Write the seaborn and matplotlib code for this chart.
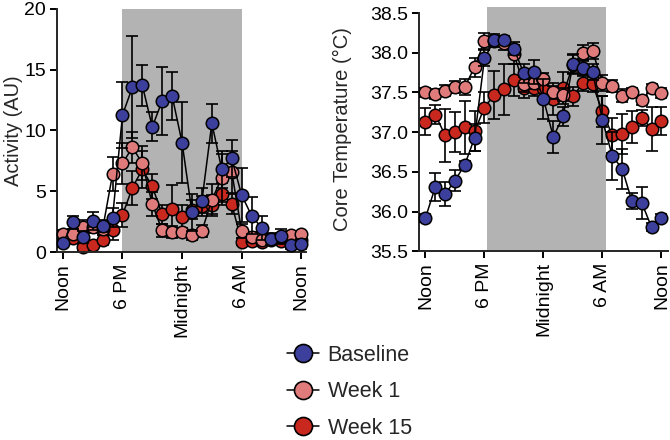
import matplotlib
matplotlib.use("Agg")
import matplotlib.pyplot as plt
import seaborn as sns
import numpy as np
import pandas as pd
from matplotlib.lines import Line2D

# ---------------- data ----------------
hours = [12, 13, 14, 15, 16, 17, 18, 19, 20, 21, 22, 23, 24,
         25, 26, 27, 28, 29, 30, 31, 32, 33, 34, 35, 36]
tick_pos = [12, 18, 24, 30, 36]
tick_labels = ["Noon", "6 PM", "Midnight", "6 AM", "Noon"]
series_names = ["Baseline", "Week 1", "Week 15"]

act_baseline = [0.72, 2.44, 1.26, 2.55, 2.14, 2.83, 11.28, 13.55, 13.7, 10.3, 12.43, 12.84, 9.0,
                3.26, 4.23, 10.59, 6.8, 7.71, 4.69, 3.0, 2.0, 1.1, 1.3, 0.58, 0.69]
act_baseline_err = [0.3, 0.5, 0.5, 0.75, 0.5, 0.8, 2.7, 4.2, 1.7, 1.2, 2.8, 2.0, 3.3,
                    1.5, 1.0, 1.6, 1.5, 1.5, 2.2, 1.5, 1.0, 0.5, 0.6, 0.3, 0.4]
act_week1 = [1.5, 1.5, 2.1, 2.1, 1.9, 6.4, 7.3, 8.6, 7.3, 3.95, 1.78, 1.67, 1.62,
             1.4, 1.73, 4.3, 6.1, 6.6, 1.73, 1.26, 1.0, 1.1, 1.25, 1.4, 1.45]
act_week1_err = [0.3, 0.4, 0.5, 0.5, 0.5, 1.4, 1.7, 1.3, 1.4, 1.0, 0.5, 0.5, 0.4,
                 0.4, 0.5, 1.3, 2.0, 1.7, 0.6, 0.4, 0.3, 0.3, 0.3, 0.3, 0.3]
act_week15 = [1.1, 1.2, 0.4, 0.58, 1.0, 1.8, 3.05, 5.3, 6.8, 5.4, 3.1, 3.54, 2.9,
              3.5, 3.8, 3.9, 4.8, 3.95, 0.85, 0.9, 0.8, 1.0, 0.9, 1.1, 1.0]
act_week15_err = [0.3, 0.3, 0.3, 0.3, 0.4, 0.8, 1.0, 1.4, 1.5, 1.0, 0.8, 2.0, 1.0,
                  0.8, 0.8, 0.8, 0.9, 0.8, 0.3, 0.3, 0.3, 0.3, 0.3, 0.3, 0.3]

tmp_baseline = [35.92, 36.31, 36.22, 36.39, 36.59, 36.93, 37.93, 38.16, 38.16, 38.05, 37.74, 37.76, 37.42,
                36.94, 37.2, 37.86, 37.81, 37.76, 37.15, 36.7, 36.54, 36.13, 36.11, 35.8, 35.92]
tmp_baseline_err = [0.05, 0.18, 0.15, 0.13, 0.05, 0.17, 0.1, 0.05, 0.05, 0.08, 0.12, 0.15, 0.25,
                    0.2, 0.12, 0.12, 0.1, 0.1, 0.3, 0.3, 0.25, 0.1, 0.2, 0.05, 0.05]
tmp_week1 = [37.5, 37.48, 37.52, 37.57, 37.57, 37.82, 38.15, 38.15, 38.12, 37.98, 37.6, 37.62, 37.67,
             37.5, 37.47, 37.85, 38.0, 38.02, 37.62, 37.58, 37.46, 37.5, 37.4, 37.55, 37.49]
tmp_week1_err = [0.06, 0.06, 0.07, 0.08, 0.1, 0.12, 0.1, 0.08, 0.08, 0.12, 0.1, 0.08, 0.08,
                 0.08, 0.08, 0.12, 0.1, 0.1, 0.1, 0.08, 0.08, 0.06, 0.06, 0.06, 0.06]
tmp_week15 = [37.13, 37.22, 36.96, 37.0, 37.06, 37.01, 37.31, 37.47, 37.54, 37.66, 37.55, 37.55, 37.55,
              37.42, 37.56, 37.45, 37.62, 37.6, 37.26, 36.96, 36.98, 37.06, 37.18, 37.04, 37.14]
tmp_week15_err = [0.17, 0.12, 0.33, 0.25, 0.33, 0.25, 0.2, 0.3, 0.32, 0.2, 0.12, 0.1, 0.15,
                  0.2, 0.2, 0.12, 0.1, 0.1, 0.2, 0.22, 0.25, 0.2, 0.1, 0.28, 0.18]

colors = {"Baseline": "#3c409c", "Week 1": "#e07b7b", "Week 15": "#c9281f"}
zorders = {"Baseline": 6, "Week 1": 4, "Week 15": 2}

# ---------------- style ----------------
sns.set_style("ticks")
plt.rcParams["font.family"] = ["Liberation Sans", "DejaVu Sans"]
plt.rcParams["axes.linewidth"] = 1.4

fig = plt.figure(figsize=(6.7, 4.4), dpi=100)
ax1 = fig.add_axes([0.085, 0.427, 0.372, 0.553])
ax2 = fig.add_axes([0.6255, 0.429, 0.372, 0.554])


def draw(ax, data, errs):
    for name in ["Week 15", "Week 1", "Baseline"]:
        df = pd.DataFrame({"hour": hours, "value": data[name]})
        z = zorders[name]
        ax.errorbar(hours, data[name], yerr=errs[name], fmt="none", ecolor="black",
                    elinewidth=1.2, capsize=4.5, capthick=1.2, zorder=z)
        sns.lineplot(data=df, x="hour", y="value", ax=ax, color="black", linewidth=1.1,
                     marker="o", markersize=9, markerfacecolor=colors[name],
                     markeredgecolor="black", markeredgewidth=1.1, zorder=z + 0.5,
                     clip_on=False)


draw(ax1,
     {"Baseline": act_baseline, "Week 1": act_week1, "Week 15": act_week15},
     {"Baseline": act_baseline_err, "Week 1": act_week1_err, "Week 15": act_week15_err})
draw(ax2,
     {"Baseline": tmp_baseline, "Week 1": tmp_week1, "Week 15": tmp_week15},
     {"Baseline": tmp_baseline_err, "Week 1": tmp_week1_err, "Week 15": tmp_week15_err})

ax1.axvspan(18, 30, color="#b3b3b3", zorder=0, lw=0)
ax2.axvspan(18.25, 30.4, color="#b3b3b3", zorder=0, lw=0)

ax1.set_xlim(11.4, 36.5)
ax1.set_ylim(0, 20)
ax1.set_yticks([0, 5, 10, 15, 20])
ax1.set_ylabel("Activity (AU)", fontsize=14.5, labelpad=1)

ax2.set_xlim(11.35, 36.7)
ax2.set_ylim(35.5, 38.57)
ax2.set_yticks([35.5, 36.0, 36.5, 37.0, 37.5, 38.0, 38.5])
ax2.set_yticklabels(["35.5", "36.0", "36.5", "37.0", "37.5", "38.0", "38.5"])
ax2.spines["left"].set_bounds(35.5, 38.5)
ax2.set_ylabel("Core Temperature (°C)", fontsize=14.5, labelpad=13)

for ax in (ax1, ax2):
    ax.set_xticks(tick_pos)
    ax.set_xticklabels(tick_labels, rotation=90, fontsize=14)
    ax.set_xlabel("")
    ax.tick_params(axis="both", direction="out", length=5, width=1.4, color="black",
                   labelcolor="black", pad=3)
    ax.tick_params(axis="y", labelsize=14)
    sns.despine(ax=ax)
    ax.patch.set_alpha(0)

handles = [Line2D([0], [0], color="black", lw=1.1, marker="o", markersize=13,
                  markerfacecolor=colors[n], markeredgecolor="black", markeredgewidth=1.2)
           for n in series_names]
fig.legend(handles, series_names, loc="upper left", bbox_to_anchor=(0.428, 0.216),
           frameon=False, fontsize=15.5, handlelength=1.5, handletextpad=0.4,
           labelspacing=0.72, borderpad=0, borderaxespad=0)

fig.savefig("out.png", dpi=100)
